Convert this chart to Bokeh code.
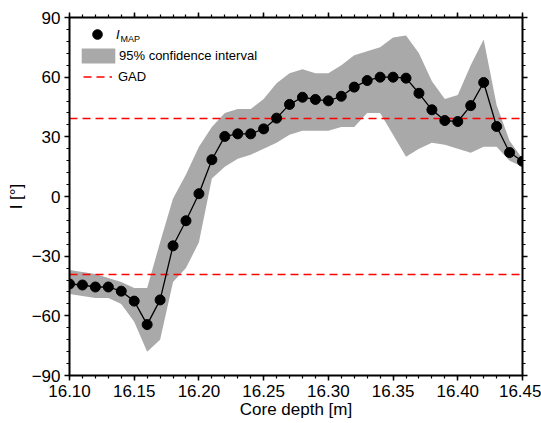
import numpy as np
from bokeh.plotting import figure
from bokeh.models import (LinearAxis, FixedTicker, PrintfTickFormatter, Legend,
                          LegendItem, Label, Range1d, ColumnDataSource)
from bokeh.core.properties import value
from bokeh.embed import file_html
from bokeh.resources import INLINE

# ---------------- data ----------------
depth = [16.10, 16.11, 16.12, 16.13, 16.14, 16.15, 16.16, 16.17, 16.18, 16.19,
         16.20, 16.21, 16.22, 16.23, 16.24, 16.25, 16.26, 16.27, 16.28, 16.29,
         16.30, 16.31, 16.32, 16.33, 16.34, 16.35, 16.36, 16.37, 16.38, 16.39,
         16.40, 16.41, 16.42, 16.43, 16.44, 16.45]
i_map = [-44.0, -44.5, -45.5, -45.5, -47.6, -52.6, -64.4, -52.0, -24.8, -12.2,
         1.4, 18.5, 30.2, 31.5, 31.5, 34.0, 39.4, 46.3, 49.9, 48.8,
         48.1, 50.4, 55.0, 58.3, 60.0, 60.0, 59.5, 51.9, 43.6, 38.2,
         37.7, 45.7, 57.3, 35.2, 22.1, 17.7]
ci_upper = [-37, -38, -39, -41, -43, -46, -46, -23, -1, 11,
            25, 35, 42, 44, 44, 49, 57, 62, 64, 62,
            62, 66, 71, 73, 75, 80, 81, 72, 58, 49,
            51, 66, 79, 46, 28, 19]
ci_lower = [-49, -50, -51, -51, -54, -63, -78, -72, -43, -36,
            -23, 9, 15, 19, 21, 24, 27, 31, 33, 33,
            33, 35, 35, 42, 42, 31, 20, 24, 27, 26,
            24, 22, 25, 25, 18, 15]
gad = 39.2

x_ticks = [16.10, 16.15, 16.20, 16.25, 16.30, 16.35, 16.40, 16.45]
y_ticks = [-90, -60, -30, 0, 30, 60, 90]
y_tick_labels = {-90: "\u221290", -60: "\u221260", -30: "\u221230",
                 0: "0", 30: "30", 60: "60", 90: "90"}
x_label = "Core depth [m]"
y_label = "I [\u00b0]"
leg_imap_var = "I"
leg_imap_sub = "MAP"
leg_ci = "95% confidence interval"
leg_gad = "GAD"

FONT = "Liberation Sans"

src = ColumnDataSource(dict(depth=depth, i_map=i_map, upper=ci_upper, lower=ci_lower,
                            gad_p=[gad] * len(depth), gad_n=[-gad] * len(depth)))

p = figure(width=541, height=423, output_backend="svg", toolbar_location=None,
           x_range=Range1d(depth[0], depth[-1]), y_range=Range1d(-90, 90),
           min_border_left=69, min_border_right=19, min_border_top=17,
           min_border_bottom=48)
p.xgrid.visible = False
p.ygrid.visible = False
p.outline_line_color = None
p.background_fill_color = "white"
p.border_fill_color = "white"

x_minor = np.round(np.arange(16.10, 16.4501, 0.01), 2).tolist()
y_minor = list(range(-90, 91, 6))


def style(ax, labels=True):
    ax.axis_line_width = 2
    ax.axis_line_color = "black"
    ax.major_tick_line_width = 1.5
    ax.minor_tick_line_width = 1.2
    ax.major_tick_line_color = "black"
    ax.minor_tick_line_color = "black"
    ax.major_tick_in = 0
    ax.major_tick_out = 5
    ax.minor_tick_in = 0
    ax.minor_tick_out = 3
    ax.major_label_text_font = FONT
    ax.major_label_text_color = "black"
    if labels:
        ax.major_label_text_font_size = "17px"
        ax.major_label_standoff = 4
    else:
        ax.major_label_text_font_size = "0px"
        ax.major_label_text_alpha = 0
        ax.major_label_standoff = 0


xb = p.xaxis[0]
xb.ticker = FixedTicker(ticks=x_ticks, minor_ticks=x_minor)
xb.formatter = PrintfTickFormatter(format="%.2f")
style(xb)
xb.axis_label = x_label
xb.axis_label_text_font = FONT
xb.axis_label_text_font_size = "17px"
xb.axis_label_text_font_style = "normal"
xb.axis_label_text_color = "black"
xb.axis_label_standoff = 0

yl = p.yaxis[0]
yl.ticker = FixedTicker(ticks=y_ticks, minor_ticks=y_minor)
yl.major_label_overrides = y_tick_labels
style(yl)
yl.axis_label = y_label
yl.axis_label_text_font = FONT
yl.axis_label_text_font_size = "17px"
yl.axis_label_text_font_style = "normal"
yl.axis_label_text_color = "black"
yl.axis_label_standoff = 3

xt = LinearAxis(ticker=FixedTicker(ticks=x_ticks, minor_ticks=x_minor))
style(xt, labels=False)
p.add_layout(xt, "above")
yr = LinearAxis(ticker=FixedTicker(ticks=y_ticks, minor_ticks=y_minor))
style(yr, labels=False)
p.add_layout(yr, "right")

band = p.varea(x="depth", y1="lower", y2="upper", source=src,
               fill_color="#a9a9a9", fill_alpha=1.0)
gad_line = p.line(x="depth", y="gad_p", source=src, line_color="#ff0000",
                  line_dash="8 5", line_width=1.5)
p.line(x="depth", y="gad_n", source=src, line_color="#ff0000",
       line_dash="8 5", line_width=1.5)
p.line(x="depth", y="i_map", source=src, line_color="black", line_width=1.3)
pts = p.scatter(x="depth", y="i_map", source=src, size=10,
                fill_color="black", line_color="black")


def mk_legend(item, loc, gw, gh, standoff, italic=False):
    lg = Legend(items=[item], location=loc, glyph_width=gw, glyph_height=gh,
                label_height=10, label_standoff=standoff, padding=0, margin=0,
                spacing=0, border_line_alpha=0, background_fill_alpha=0,
                label_text_font=FONT, label_text_font_size="13px",
                label_text_font_style="italic" if italic else "normal",
                label_text_color="black")
    p.add_layout(lg, "center")
    return lg


mk_legend(LegendItem(label=value(leg_imap_var), renderers=[pts]), (11, 329), 34, 24, 2,
          italic=True)
mk_legend(LegendItem(label=value(leg_ci), renderers=[band]), (8, 310.5), 42, 19, 0)
mk_legend(LegendItem(label=value(leg_gad), renderers=[gad_line]), (14, 291.5), 29, 15, 6)

p.add_layout(Label(x=51, y=337, x_units="screen", y_units="screen", text=leg_imap_sub,
                   text_font=FONT, text_font_size="9px", text_baseline="middle",
                   text_align="left", text_color="black"))

open("out.html", "w").write(file_html(p, INLINE))
